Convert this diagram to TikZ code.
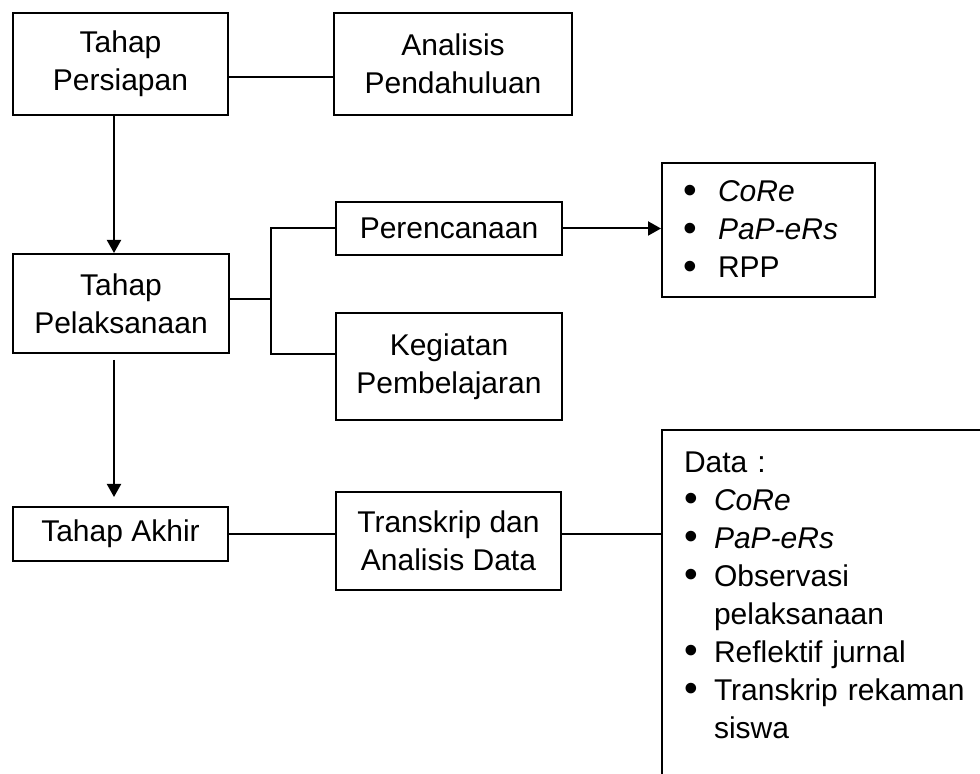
\documentclass[tikz,border=0pt]{standalone}
\usepackage{fontspec}
\setmainfont{Liberation Sans}
\usetikzlibrary{arrows.meta}

\tikzset{
  box/.style={draw, align=center, inner sep=0pt, font=\fontsize{15}{19}\selectfont},
  list/.style={align=left, inner xsep=10.5pt, inner ysep=0pt, font=\fontsize{15}{19}\selectfont},
}
\newcommand{\itm}[1]{\makebox[#1][l]{\raisebox{-0.6pt}{\scalebox{1.3}{\textbullet}}}}

\begin{document}
\begin{tikzpicture}[x=0.5pt, y=-0.5pt, line width=1pt, >={Triangle[width=7pt,length=6.5pt]}]
  \useasboundingbox (0,0) rectangle (980,774);
  \clip (0,0) rectangle (980,774);

  \node[box, minimum width=107.5pt, minimum height=51pt]   (persiapan)   at (120.5,64)  {Tahap\\Persiapan};
  \node[box, minimum width=119pt,   minimum height=51pt]   (analisis)    at (453,64)    {Analisis\\Pendahuluan};
  \node[box, minimum width=108pt,   minimum height=49.5pt] (pelaksanaan) at (121,303.5) {Tahap\\Pelaksanaan};
  \node[box, minimum width=113pt,   minimum height=26.5pt] (perencanaan) at (449,228.5) {Perencanaan};
  \node[box, minimum width=113pt,   minimum height=53.5pt] (kegiatan)    at (449,366.5) {Kegiatan\\Pembelajaran};
  \node[box, list, text width=85.5pt, minimum height=67pt] (hasil)      at (768.5,230)
    {\itm{17.5pt}\textit{CoRe}\\ \itm{17.5pt}\textit{PaP-eRs}\\ \itm{17.5pt}RPP};
  \node[box, minimum width=107.5pt, minimum height=27pt]   (akhir)       at (120.5,534) {Tahap Akhir};
  \node[box, minimum width=112.5pt, minimum height=49pt]   (transkrip)   at (448.5,541) {Transkrip dan\\Analisis Data};
  \node[list, inner ysep=10.5pt, text width=150pt, anchor=north west] (data) at (662,430)
    {Data :\\ \itm{15pt}\textit{CoRe}\\ \itm{15pt}\textit{PaP-eRs}\\ \itm{15pt}Observasi\\
     \hspace*{15pt}pelaksanaan\\ \itm{15pt}Reflektif jurnal\\ \itm{15pt}Transkrip rekaman\\
     \hspace*{15pt}siswa};
  \draw (data.north west) rectangle (1000,800);

  \coordinate (cabang)      at (271,299);
  \coordinate (cabangbawah) at (271,354);

  \draw[->] ([xshift=-3.25pt]persiapan.south) -- ([xshift=-3.25pt]persiapan.south |- pelaksanaan.north);
  \draw ([yshift=-6.5pt]persiapan.east) -- ([yshift=-6.5pt]persiapan.east -| analisis.west);
  \draw[->, shorten <=3pt, shorten >=4.5pt] ([xshift=-3.5pt]pelaksanaan.south) -- ([xshift=-3.5pt]pelaksanaan.south |- akhir.north);
  \draw (pelaksanaan.east |- cabang) -- (cabang);
  \draw (perencanaan.west) -| (cabangbawah) -- (cabangbawah -| kegiatan.west);
  \draw[->] (perencanaan.east) -- (perencanaan.east -| hasil.west);
  \draw (akhir.east) -- (akhir.east -| transkrip.west);
  \draw (transkrip.east |- akhir.east) -- (akhir.east -| data.west);
\end{tikzpicture}
\end{document}
